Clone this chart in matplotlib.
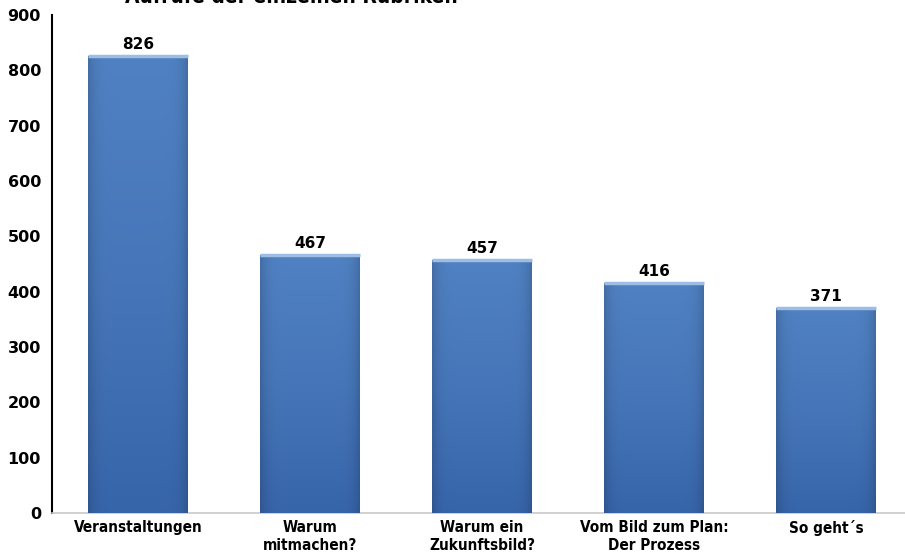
import numpy as np
import matplotlib.pyplot as plt
from matplotlib.colors import LinearSegmentedColormap

categories = ["Veranstaltungen", "Warum\nmitmachen?", "Warum ein\nZukunftsbild?",
              "Vom Bild zum Plan:\nDer Prozess", "So geht´s"]
values = [826, 467, 457, 416, 371]
title = "Aufrufe der einzelnen Rubriken"

plt.rcParams['font.family'] = ['DejaVu Sans']

fig = plt.figure(figsize=(9.05, 5.56), dpi=100)
ax = fig.add_axes([52 / 905, 1 - 513 / 556, 1 - 52 / 905, 498 / 556])

x = np.arange(len(values))
bars = ax.bar(x, values, width=0.58, color="#4a78bb", zorder=2)

# vertical gradient + slightly darker sides, clipped to each bar
grad = LinearSegmentedColormap.from_list("g", ["#3765aa", "#4676b9", "#5081c2"])
side = np.linspace(0, 1, 60)
shade = 1 - 0.15 * (np.abs(side - 0.5) * 2) ** 8
for b in bars:
    x0, w, h = b.get_x(), b.get_width(), b.get_height()
    img = np.linspace(0, 1, 200)[:, None] * np.ones((1, 60))
    rgba = grad(img)
    rgba[..., :3] *= shade[None, :, None]
    im = ax.imshow(rgba, extent=[x0, x0 + w, 0, h], origin="lower",
                   aspect="auto", zorder=3)
    im.set_clip_path(b)
    ax.plot([x0, x0 + w], [h, h], color="#9cbde4", lw=2.5, zorder=4,
            solid_capstyle="butt")
    ax.text(x0 + w / 2, h + 7, str(int(h)),
            ha="center", va="bottom", fontsize=11, fontweight="bold")

ax.set_xlim(-0.5, 4.46)
ax.set_ylim(0, 900)
ax.set_yticks(range(0, 901, 100))
ax.set_xticks(x)
ax.set_xticklabels(categories, fontsize=11, fontweight="bold",
                   fontstretch="condensed", linespacing=1.25)
for t in ax.get_yticklabels():
    t.set_fontsize(11.5)
    t.set_fontweight("bold")
ax.tick_params(axis="x", length=0, pad=5)
ax.tick_params(axis="y", length=0, pad=8)
for s in ["top", "right"]:
    ax.spines[s].set_visible(False)
ax.spines["left"].set_color("black")
ax.spines["left"].set_linewidth(1.5)
ax.spines["bottom"].set_color("#c8c8c8")
ax.spines["bottom"].set_linewidth(1.2)

# title sits mostly above the top edge, as in the source image
fig.text(125 / 905, 1 - 3 / 556, title, ha="left", va="baseline",
         fontsize=15, fontweight="bold", fontstretch="condensed")

fig.savefig("out.png", dpi=100)
